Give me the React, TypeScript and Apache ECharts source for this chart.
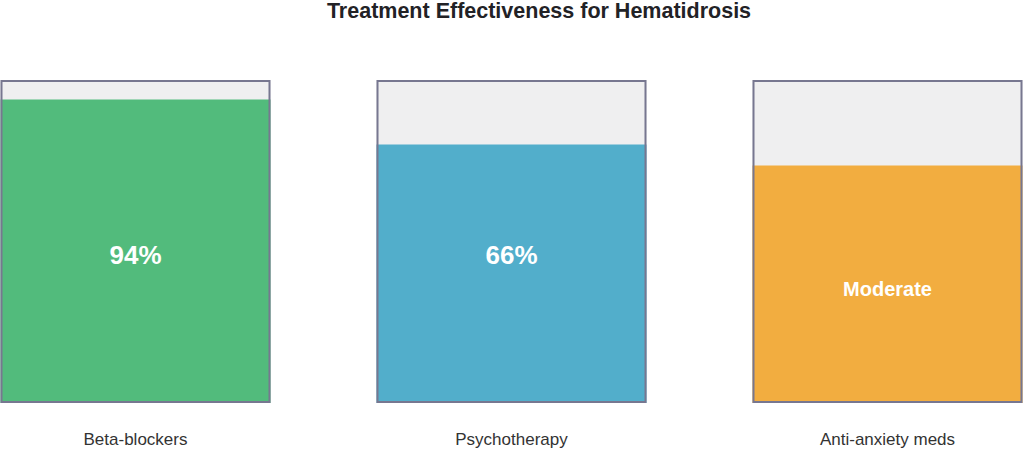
import React, { useEffect, useRef } from "react";
import * as echarts from "echarts";

const categories = ["Beta-blockers", "Psychotherapy", "Anti-anxiety meds"];
const fillValues = [94, 80, 73.5];
const valueLabels = ["94%", "66%", "Moderate"];
const containerMax = [100, 100, 100];
const fillColors = ["#52bb7c", "#52aecb", "#f2ad40"];
const labelOffsets = [3.5, -18.5, 4.5];
const labelSizes = [26, 26, 20];

export default function App() {
  const ref = useRef<HTMLDivElement>(null);
  useEffect(() => {
    if (!ref.current) return;
    const chart = echarts.init(ref.current, undefined, { renderer: "svg" });
    const font = "'Liberation Sans', Arial, Helvetica, sans-serif";
    chart.setOption({
      animation: false,
      textStyle: { fontFamily: font },
      title: {
        text: "Treatment Effectiveness for Hematidrosis",
        left: 539,
        textAlign: "center",
        top: 0,
        padding: 0,
        textStyle: { fontSize: 21.5, fontWeight: "bold", color: "#222226", fontFamily: font },
      },
      grid: { left: 135.5, right: 136.5, top: 80, bottom: 47, containLabel: false },
      xAxis: {
        type: "category",
        data: categories,
        boundaryGap: false,
        axisLine: { show: false },
        axisTick: { show: false },
        splitLine: { show: false },
        axisLabel: { fontSize: 17, color: "#333", margin: 28, fontFamily: font },
      },
      yAxis: {
        type: "value",
        min: 0,
        max: 100,
        show: false,
        splitLine: { show: false },
      },
      series: [
        {
          type: "bar",
          data: containerMax,
          barWidth: 270,
          barGap: "-100%",
          itemStyle: { color: "#efeff0" },
          silent: true,
          z: 1,
        },
        {
          type: "bar",
          data: fillValues.map((v, i) => ({
            value: v,
            itemStyle: { color: fillColors[i] },
            label: {
              show: true,
              position: "inside",
              formatter: valueLabels[i],
              offset: [0, labelOffsets[i]],
              color: "#ffffff",
              fontSize: labelSizes[i],
              fontWeight: "bold",
              fontFamily: font,
            },
          })),
          barWidth: 270,
          barGap: "-100%",
          z: 2,
        },
        {
          type: "bar",
          data: containerMax,
          barWidth: 270,
          barGap: "-100%",
          itemStyle: { color: "rgba(0,0,0,0)", borderColor: "#777790", borderWidth: 2 },
          silent: true,
          z: 3,
        },
      ],
    });
    return () => chart.dispose();
  }, []);
  return (
    <div
      ref={ref}
      style={{ position: "absolute", left: 0, top: 0, width: 1024, height: 450 }}
    />
  );
}
